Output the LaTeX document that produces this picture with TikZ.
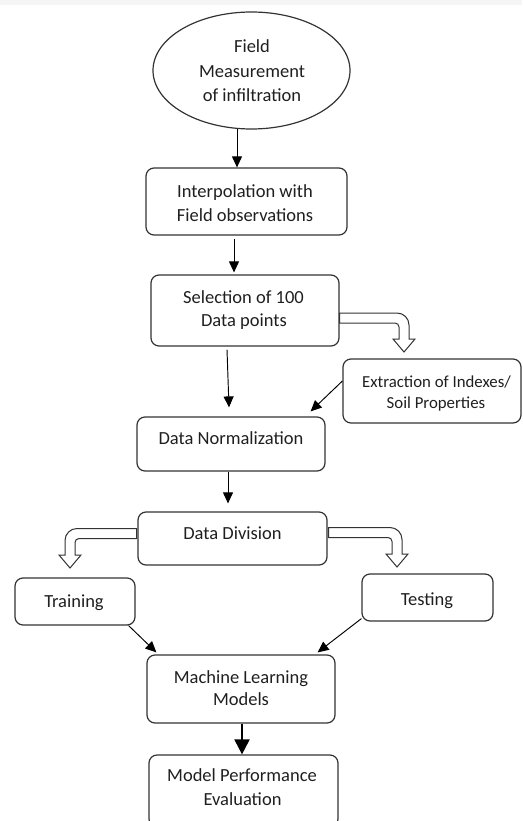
\documentclass[tikz,border=0pt]{standalone}
\usepackage{fontspec}
\setmainfont{Carlito}
\usetikzlibrary{arrows.meta,shapes.geometric,calc}
\begin{document}
\begin{tikzpicture}[x=1pt,y=-1pt,
  box/.style={draw=black!80,line width=1.2pt,rounded corners=8pt,inner sep=0pt},
  txt/.style={anchor=base,inner sep=0pt,text=black!88,font=\fontsize{18.5}{24}\selectfont},
  stxt/.style={anchor=base,inner sep=0pt,text=black!88,font=\fontsize{16.8}{21}\selectfont},
  arr/.style={line width=0.95pt,-{Triangle[width=10pt,length=11pt]}},
  thickarr/.style={line width=2pt,-{Triangle[width=15pt,length=15pt]}},
  fat/.style={draw=black!80,line width=1pt,fill=white,line join=miter}]
\useasboundingbox (0,0) rectangle (522,821);
\fill[black!4] (0,0) rectangle (522,5);

% boxes
\node[ellipse,draw=black!80,line width=1.2pt,minimum width=197pt,minimum height=117pt,inner sep=0pt] (ell) at (251.5,70.5) {};
\node[box,minimum width=201pt,minimum height=67pt] (interp) at (246.5,201.5) {};
\node[box,minimum width=188pt,minimum height=71pt] (sel) at (245,310.5) {};
\node[box,minimum width=178pt,minimum height=64pt] (ext) at (432,391) {};
\node[box,minimum width=188pt,minimum height=54pt] (norm) at (231,444) {};
\node[box,minimum width=189pt,minimum height=53pt] (div) at (232.5,538.5) {};
\node[box,minimum width=120pt,minimum height=47pt] (train) at (75,601.5) {};
\node[box,minimum width=131pt,minimum height=47pt] (test) at (427.5,597.5) {};
\node[box,minimum width=188pt,minimum height=68pt] (ml) at (241,689) {};
\node[box,minimum width=189pt,minimum height=72pt] (perf) at (243.5,791) {};

% texts
\node[txt] (t1a) at (252,53) {Field};
\node[txt] (t1b) at (252,77.5) {Measurement};
\node[txt] (t1c) at (252,101.5) {of infiltration};
\node[txt] (t2a) at (245,197) {Interpolation with};
\node[txt] (t2b) at (245,221) {Field observations};
\node[txt] (t3a) at (243.5,303) {Selection of 100};
\node[txt] (t3b) at (244,326.5) {Data points};
\node[stxt] (t4a) at (436.5,387) {Extraction of Indexes/};
\node[stxt] (t4b) at (436,408) {Soil Properties};
\node[txt] (t5) at (231,444) {Data Normalization};
\node[txt] (t6) at (232.5,539) {Data Division};
\node[txt] (t7) at (74,607) {Training};
\node[txt] (t8) at (427,605) {Testing};
\node[txt] (t9a) at (241,683.5) {Machine Learning};
\node[txt] (t9b) at (241,705.5) {Models};
\node[txt] (t10a) at (242,781.5) {Model Performance};
\node[txt] (t10b) at (242.5,805) {Evaluation};

% thin arrows
\draw[arr] ([xshift=-14.5pt,yshift=1pt]ell.south) -- ([xshift=-14.5pt]ell.south |- interp.north);
\draw[arr] ([xshift=-12.5pt,yshift=-3pt]interp.south) -- ([xshift=-12.5pt,yshift=2pt]interp.south |- sel.north);
\draw[arr] ([xshift=-18pt,yshift=-3pt]sel.south) -- ([xshift=-2pt,yshift=9pt]norm.north);
\draw[arr] ([yshift=10pt]ext.west) -- ([xshift=-15pt,yshift=5pt]norm.north east);
\draw[arr] ([xshift=-3pt]norm.south) -- ([xshift=-3pt,yshift=8pt]norm.south |- div.north);
\draw[arr] ([xshift=-7pt]train.south east) -- ([xshift=10pt,yshift=2pt]ml.north west);
\draw[arr] ([yshift=3pt]test.south west) -- ([xshift=-18pt,yshift=2pt]ml.north east);
\draw[thickarr] ([xshift=1pt]ml.south) -- ([xshift=1pt]ml.south |- perf.north);

% fat hollow arrows
\draw[fat] (339.5,313) -- (397,313) .. controls (403.63,313) and (409,318.37) .. (409,325)
  -- (409,339) -- (415,339) -- (404,352) -- (393,339) -- (399,339) -- (399,327)
  .. controls (399,324.79) and (397.21,323) .. (395,323) -- (339.5,323) -- cycle;
\draw[fat] (136.5,528.5) -- (77,528.5) .. controls (70.37,528.5) and (65,533.87) .. (65,540.5)
  -- (65,555) -- (59,555) -- (70,568) -- (81,555) -- (75,555) -- (75,542.5)
  .. controls (75,540.29) and (76.79,538.5) .. (79,538.5) -- (136.5,538.5) -- cycle;
\draw[fat] (328.5,527.5) -- (390,527.5) .. controls (396.63,527.5) and (402,532.87) .. (402,539.5)
  -- (402,554) -- (408,554) -- (397,567) -- (386,554) -- (392,554) -- (392,541.5)
  .. controls (392,539.29) and (390.21,537.5) .. (388,537.5) -- (328.5,537.5) -- cycle;
\end{tikzpicture}
\end{document}
